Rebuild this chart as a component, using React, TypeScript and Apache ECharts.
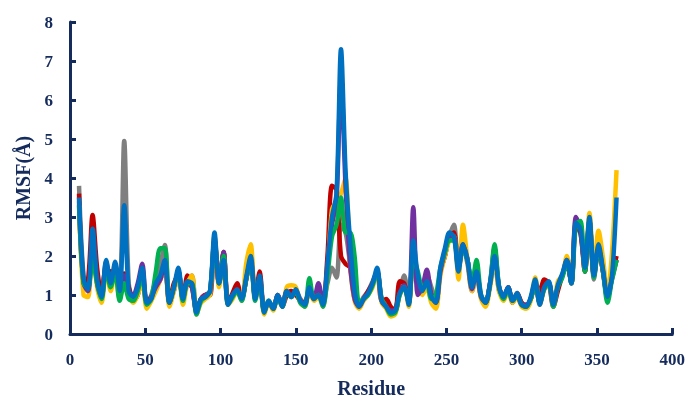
import React, { useEffect, useRef } from "react";
import * as echarts from "echarts";

const residues = [
  6, 9, 12, 15, 18, 21, 24, 27, 30, 33,
  36, 39, 42, 45, 48, 51, 54, 57, 60, 63,
  66, 69, 72, 75, 78, 81, 84, 87, 90, 93,
  96, 99, 102, 105, 108, 111, 114, 117, 120, 123,
  126, 129, 132, 135, 138, 141, 144, 147, 150, 153,
  156, 159, 162, 165, 168, 171, 174, 177, 180, 183,
  186, 189, 192, 195, 198, 201, 204, 207, 210, 213,
  216, 219, 222, 225, 228, 231, 234, 237, 240, 243,
  246, 249, 252, 255, 258, 261, 264, 267, 270, 273,
  276, 279, 282, 285, 288, 291, 294, 297, 300, 303,
  306, 309, 312, 315, 318, 321, 324, 327, 330, 333,
  336, 339, 342, 345, 348, 351, 354, 357, 360, 363,
];

const grayRmsf = [
  3.8, 1.5, 1.2, 2.5, 1.5, 1.0, 1.85, 1.35, 1.7, 1.3,
  4.95, 1.3, 0.9, 1.1, 1.5, 0.75, 1.0, 1.4, 1.8, 2.28,
  0.9, 1.1, 1.6, 0.95, 1.3, 1.5, 0.6, 0.85, 1.0, 1.05,
  2.5, 1.25, 2.1, 0.8, 0.95, 1.1, 0.95, 1.4, 1.9, 0.95,
  1.4, 0.6, 0.8, 0.7, 0.95, 0.75, 1.05, 1.0, 1.1, 0.9,
  0.8, 1.1, 0.95, 1.05, 0.8, 1.3, 1.7, 1.45, 2.8, 2.6,
  1.8, 1.0, 0.75, 0.95, 1.1, 1.35, 1.6, 0.9, 0.75, 0.6,
  0.65, 1.1, 1.5, 0.8, 2.1, 1.3, 1.2, 1.5, 1.2, 0.85,
  1.6, 2.0, 2.5, 2.8, 1.7, 2.2, 1.8, 1.1, 1.5, 0.95,
  0.85, 1.25, 1.9, 1.1, 1.0, 1.15, 0.9, 1.0, 0.8, 0.75,
  0.9, 1.3, 0.8, 1.15, 1.3, 0.8, 1.2, 1.5, 1.8, 1.35,
  2.7, 2.6, 1.6, 2.9, 1.4, 2.2, 1.6, 1.0, 1.4, 1.9,
];

const redRmsf = [
  3.6, 1.3, 1.4, 3.05, 1.7, 1.0, 1.7, 1.6, 1.6, 1.2,
  1.55, 1.2, 0.85, 1.0, 1.5, 0.8, 0.95, 1.2, 1.4, 1.7,
  0.85, 1.3, 1.5, 0.9, 1.5, 1.2, 0.6, 0.9, 1.0, 1.0,
  2.4, 1.3, 2.1, 0.8, 1.05, 1.3, 0.9, 1.4, 2.1, 0.95,
  1.6, 0.6, 0.8, 0.7, 1.0, 0.7, 1.0, 1.1, 1.0, 0.85,
  0.8, 1.1, 0.9, 1.0, 0.8, 2.0, 3.8, 3.7, 2.0, 1.8,
  1.7, 0.9, 0.75, 0.9, 1.1, 1.3, 1.6, 0.85, 0.9, 0.7,
  0.6, 1.35, 1.3, 0.8, 2.0, 1.3, 1.2, 1.3, 1.0, 0.8,
  1.6, 2.0, 2.5, 2.6, 1.6, 2.4, 1.9, 1.2, 1.6, 0.95,
  0.8, 1.3, 1.9, 1.2, 0.9, 1.2, 0.8, 1.05, 0.8, 0.7,
  0.9, 1.3, 1.1, 1.4, 1.3, 0.7, 1.1, 1.5, 1.8, 1.3,
  2.8, 2.6, 1.6, 2.9, 1.5, 2.2, 1.6, 0.95, 1.5, 2.0,
];

const yellowRmsf = [
  3.3, 1.0, 0.95, 2.4, 1.2, 0.8, 1.7, 1.1, 1.6, 0.9,
  1.4, 1.0, 0.8, 1.0, 1.4, 0.65, 0.85, 1.1, 1.4, 1.7,
  0.7, 1.1, 1.6, 0.75, 1.3, 1.5, 0.5, 0.8, 0.9, 1.0,
  2.4, 1.2, 2.0, 0.75, 0.9, 1.1, 0.85, 1.8, 2.3, 0.9,
  1.4, 0.5, 0.8, 0.6, 1.0, 0.7, 1.2, 1.25, 1.2, 0.8,
  0.7, 1.1, 0.85, 0.95, 0.7, 1.6, 3.2, 3.4, 3.6, 4.0,
  1.8, 0.85, 0.65, 0.85, 1.0, 1.2, 1.6, 0.8, 0.65, 0.45,
  0.5, 1.0, 1.2, 0.7, 2.2, 1.3, 1.0, 1.2, 0.8, 0.65,
  1.5, 2.0, 2.4, 2.5, 1.4, 2.8, 1.9, 1.1, 1.5, 0.9,
  0.7, 1.2, 1.9, 1.1, 0.85, 1.1, 0.8, 0.95, 0.7, 0.65,
  0.85, 1.45, 0.75, 1.15, 1.3, 0.7, 1.35, 1.5, 2.0, 1.4,
  2.9, 2.8, 1.7, 3.1, 1.6, 2.65, 1.95, 1.0, 2.1, 4.2,
];

const purpleRmsf = [
  3.4, 1.3, 1.1, 2.5, 1.3, 0.95, 1.8, 1.35, 1.7, 1.1,
  1.5, 1.1, 1.0, 1.3, 1.8, 0.8, 0.95, 1.2, 1.4, 1.8,
  0.8, 1.2, 1.6, 0.9, 1.3, 1.2, 0.6, 0.9, 1.0, 1.1,
  2.4, 1.3, 2.1, 0.8, 1.0, 1.1, 0.9, 1.4, 1.9, 0.95,
  1.4, 0.6, 0.8, 0.65, 1.0, 0.75, 1.1, 0.95, 1.1, 0.85,
  0.8, 1.15, 0.9, 1.3, 0.8, 1.7, 2.8, 3.4, 6.6, 3.8,
  1.8, 0.9, 0.7, 0.9, 1.05, 1.3, 1.6, 0.85, 0.7, 0.6,
  0.6, 1.05, 1.25, 0.8, 3.25, 1.0, 1.2, 1.65, 1.0, 0.8,
  1.6, 2.1, 2.5, 2.5, 1.7, 2.3, 1.9, 1.15, 1.6, 0.95,
  0.8, 1.3, 2.2, 1.2, 0.95, 1.2, 0.85, 1.0, 0.75, 0.75,
  0.9, 1.3, 0.8, 1.2, 1.3, 0.75, 1.2, 1.5, 1.9, 1.3,
  3.0, 2.7, 1.7, 2.9, 1.5, 2.2, 1.6, 0.9, 1.45, 1.9,
];

const greenRmsf = [
  3.3, 1.3, 1.2, 1.9, 1.3, 0.9, 1.7, 1.2, 1.6, 0.85,
  1.3, 0.9, 0.85, 1.1, 1.5, 0.75, 0.9, 1.6, 2.2, 2.2,
  0.8, 1.2, 1.6, 0.85, 1.3, 1.3, 0.5, 0.85, 0.95, 1.1,
  2.4, 1.3, 2.0, 0.75, 0.95, 1.1, 0.85, 1.4, 1.9, 0.85,
  1.4, 0.55, 0.85, 0.65, 0.95, 0.7, 1.05, 0.95, 1.1, 0.8,
  0.7, 1.43, 0.9, 1.0, 0.7, 1.5, 2.5, 2.8, 3.5, 2.6,
  2.6, 2.0, 0.8, 0.9, 1.0, 1.25, 1.6, 0.9, 0.7, 0.5,
  0.55, 1.0, 1.2, 0.8, 2.0, 1.6, 1.2, 1.3, 0.9, 1.0,
  1.7, 2.1, 2.4, 2.4, 1.7, 2.2, 1.9, 1.3, 1.9, 1.0,
  0.8, 1.3, 2.3, 1.2, 0.9, 1.15, 0.85, 1.0, 0.75, 0.7,
  0.9, 1.3, 0.8, 1.15, 1.3, 0.7, 1.2, 1.45, 1.85, 1.3,
  2.8, 2.9, 1.6, 2.9, 1.45, 2.2, 1.6, 0.8, 1.4, 1.9,
];

const blueRmsf = [
  3.5, 1.4, 1.15, 2.7, 1.4, 0.95, 1.9, 1.3, 1.85, 1.1,
  3.3, 1.1, 0.95, 1.2, 1.7, 0.8, 0.9, 1.3, 1.5, 1.9,
  0.8, 1.2, 1.7, 0.9, 1.35, 1.3, 0.55, 0.9, 0.95, 1.1,
  2.6, 1.3, 1.9, 0.75, 1.0, 1.15, 0.9, 1.45, 2.0, 0.9,
  1.5, 0.55, 0.85, 0.65, 1.0, 0.7, 1.1, 0.95, 1.15, 0.85,
  0.75, 1.2, 0.9, 1.0, 0.75, 1.8, 3.0, 3.6, 7.3, 4.2,
  2.4, 1.1, 0.7, 0.9, 1.05, 1.3, 1.7, 0.85, 0.7, 0.55,
  0.6, 1.05, 1.2, 0.75, 2.4, 1.5, 1.1, 1.35, 0.95, 0.8,
  1.7, 2.2, 2.6, 2.5, 1.6, 2.3, 1.9, 1.2, 1.6, 1.0,
  0.8, 1.3, 2.0, 1.2, 0.95, 1.2, 0.85, 1.05, 0.75, 0.7,
  0.95, 1.4, 0.75, 1.2, 1.35, 0.75, 1.25, 1.55, 1.9, 1.3,
  2.85, 2.7, 1.7, 3.0, 1.5, 2.3, 1.65, 0.95, 1.5, 3.5,
];

const seriesNames = ["S1", "S2", "S3", "S4", "S5", "S6"];
const seriesColors = ["#7F7F7F", "#C00000", "#FFC000", "#7030A0", "#00B050", "#0070C0"];
const seriesValues = [grayRmsf, redRmsf, yellowRmsf, purpleRmsf, greenRmsf, blueRmsf];

const xTicks = { min: 0, max: 400, interval: 50 };
const yTicks = { min: 0, max: 8, interval: 1 };

const NAVY = "#142B5C";
const FONT = "'Liberation Serif', 'Times New Roman', serif";

export default function App() {
  const ref = useRef<HTMLDivElement>(null);
  useEffect(() => {
    if (!ref.current) return;
    const chart = echarts.init(ref.current, undefined, { renderer: "svg" });
    const axisCommon = {
      axisLine: { show: true, lineStyle: { color: NAVY, width: 3 } },
      axisTick: { show: true, inside: true, length: 6, lineStyle: { color: NAVY, width: 3 } },
      splitLine: { show: false },
      axisLabel: { color: NAVY, fontFamily: FONT, fontWeight: "bold", fontSize: 17 },
      nameTextStyle: { color: NAVY, fontFamily: FONT, fontWeight: "bold", fontSize: 20 },
    };
    chart.setOption({
      animation: false,
      grid: { left: 70, right: 15, top: 22, bottom: 67, containLabel: false },
      xAxis: {
        type: "value",
        ...xTicks,
        name: "Residue",
        nameLocation: "middle",
        nameGap: 44,
        ...axisCommon,
        axisLabel: { ...axisCommon.axisLabel, margin: 17 },
      },
      yAxis: {
        type: "value",
        ...yTicks,
        name: "RMSF(Å)",
        nameLocation: "middle",
        nameGap: 37,
        ...axisCommon,
        axisLabel: { ...axisCommon.axisLabel, margin: 17 },
      },
      series: seriesNames.map((n, i) => ({
        name: n,
        type: "line",
        data: residues.map((r, j) => [r, seriesValues[i][j]]),
        showSymbol: false,
        symbol: "none",
        smooth: 0.3,
        lineStyle: { color: seriesColors[i], width: 4.5 },
        itemStyle: { color: seriesColors[i] },
        z: 2 + i,
      })),
    });
    return () => chart.dispose();
  }, []);
  return (
    <div
      ref={ref}
      style={{ position: "fixed", left: 0, top: 0, width: 688, height: 403, overflow: "hidden" }}
    />
  );
}
